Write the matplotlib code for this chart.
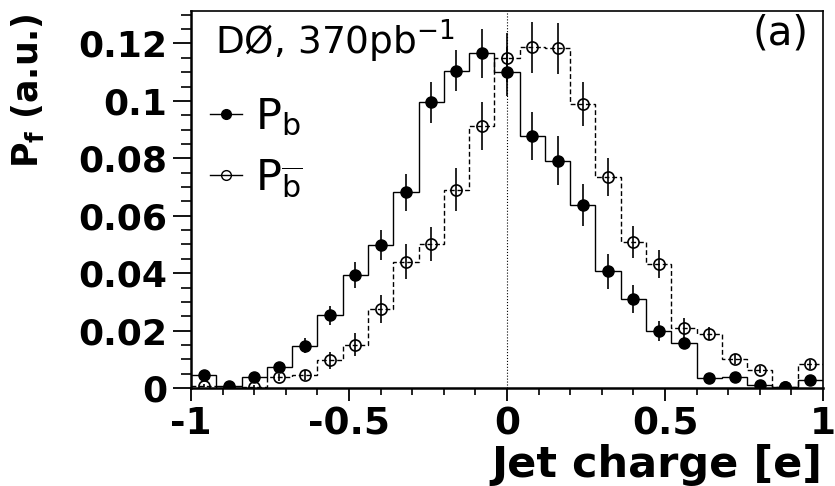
import numpy as np
import matplotlib
matplotlib.use("Agg")
import matplotlib.pyplot as plt
from matplotlib.lines import Line2D
from matplotlib.ticker import MultipleLocator

plt.rcParams["font.family"] = ["DejaVu Sans"]
plt.rcParams["mathtext.fontset"] = "dejavusans"

# ---- data --------------------------------------------------------------------
bin_edges = np.linspace(-1.0, 1.0, 26)          # 25 bins, width 0.08
bin_centers = 0.5 * (bin_edges[:-1] + bin_edges[1:])

p_b = [0.0046, 0.0006, 0.0038, 0.0073, 0.0147, 0.0253, 0.0394, 0.0498, 0.0682,
       0.0995, 0.1105, 0.1165, 0.1101, 0.0878, 0.0792, 0.0638, 0.0406, 0.0311,
       0.0200, 0.0157, 0.0035, 0.0038, 0.0009, 0.0003, 0.0029]
p_b_err = [0.0012, 0.0005, 0.0011, 0.0017, 0.0026, 0.0033, 0.0045, 0.0052, 0.0065,
           0.0072, 0.0072, 0.0087, 0.0085, 0.0084, 0.0084, 0.0074, 0.0060, 0.0049,
           0.0035, 0.0022, 0.0010, 0.0010, 0.0006, 0.0004, 0.0010]

p_bbar = [0.0008, 0.0000, 0.0005, 0.0038, 0.0046, 0.0096, 0.0151, 0.0275, 0.0440,
          0.0501, 0.0690, 0.0913, 0.1151, 0.1186, 0.1183, 0.0989, 0.0736, 0.0508,
          0.0432, 0.0209, 0.0189, 0.0101, 0.0064, 0.0005, 0.0083]
p_bbar_err = [0.0006, 0.0003, 0.0005, 0.0012, 0.0017, 0.0030, 0.0039, 0.0049, 0.0060,
              0.0058, 0.0075, 0.0083, 0.0085, 0.0088, 0.0088, 0.0077, 0.0066, 0.0055,
              0.0049, 0.0035, 0.0022, 0.0016, 0.0012, 0.0004, 0.0016]

x_ticks = [-1, -0.5, 0, 0.5, 1]
x_ticklabels = ["-1", "-0.5", "0", "0.5", "1"]
y_ticks = [0, 0.02, 0.04, 0.06, 0.08, 0.10, 0.12]
y_ticklabels = ["0", "0.02", "0.04", "0.06", "0.08", "0.1", "0.12"]

# ---- figure ------------------------------------------------------------------
fig = plt.figure(figsize=(8.35, 4.86), dpi=100)
ax = fig.add_axes([191 / 835, 1 - 388 / 486, 632 / 835, 377 / 486])

ax.stairs(p_b, bin_edges, baseline=None, color="k", lw=1.0)
ax.stairs(p_bbar, bin_edges, baseline=None, color="k", lw=1.0, ls=(0, (3.5, 2)))

ax.errorbar(bin_centers, p_b, yerr=p_b_err, fmt="o", ms=8, color="k",
            mfc="k", mec="k", elinewidth=1.2, capsize=0, zorder=3)
ax.errorbar(bin_centers, p_bbar, yerr=p_bbar_err, fmt="o", ms=8, color="k",
            mfc="none", mec="k", mew=1.2, elinewidth=1.2, capsize=0, zorder=3)

ax.axvline(0, color="k", ls=":", lw=0.8)

ax.set_xlim(-1, 1)
ax.set_ylim(0, 0.1313)

ax.set_xticks(x_ticks)
ax.set_xticklabels(x_ticklabels)
ax.set_yticks(y_ticks)
ax.set_yticklabels(y_ticklabels)
ax.xaxis.set_minor_locator(MultipleLocator(0.1))
ax.yaxis.set_minor_locator(MultipleLocator(0.005))
ax.tick_params(axis="x", which="major", direction="out", length=9, width=1.3,
               labelsize=27, pad=4)
ax.tick_params(axis="x", which="minor", direction="out", length=5, width=1.2)
ax.tick_params(axis="y", which="major", direction="out", length=13, width=1.3,
               labelsize=26, pad=4)
ax.tick_params(axis="y", which="minor", direction="out", length=7, width=1.2)
for lab in ax.get_xticklabels() + ax.get_yticklabels():
    lab.set_fontweight("bold")

for side in ["left", "bottom"]:
    ax.spines[side].set_linewidth(1.8)
for side in ["top", "right"]:
    ax.spines[side].set_linewidth(1.2)

ax.text(0.038, 0.886, r"DØ, 370pb$^{\mathregular{-1}}$", transform=ax.transAxes,
        fontsize=27, va="baseline", ha="left")
ax.text(0.932, 0.912, "(a)", transform=ax.transAxes, fontsize=29,
        va="baseline", ha="center")

handles = [
    Line2D([], [], color="k", lw=1.0, marker="o", ms=7, mfc="k"),
    Line2D([], [], color="k", lw=1.0, marker="o", ms=7, mfc="none"),
]
ax.legend(handles, [r"$\mathregular{P_b}$", r"$\mathregular{P_{\overline{b}}}$"],
          loc="upper left", bbox_to_anchor=(0.03, 0.775), frameon=False,
          fontsize=31, handlelength=0.75, handletextpad=0.3, borderpad=0,
          borderaxespad=0, labelspacing=0.45)

fig.text(822 / 835, 9 / 486, "Jet charge [e]", fontsize=31, fontweight="bold",
         ha="right", va="baseline")
fig.text(28 / 835, 1 - 13 / 486, r"$\mathbf{P}_{\mathbf{f}}$ (a.u.)", fontsize=25,
         fontweight="bold", rotation=90, ha="center", va="top")

fig.savefig("out.png", dpi=100)
